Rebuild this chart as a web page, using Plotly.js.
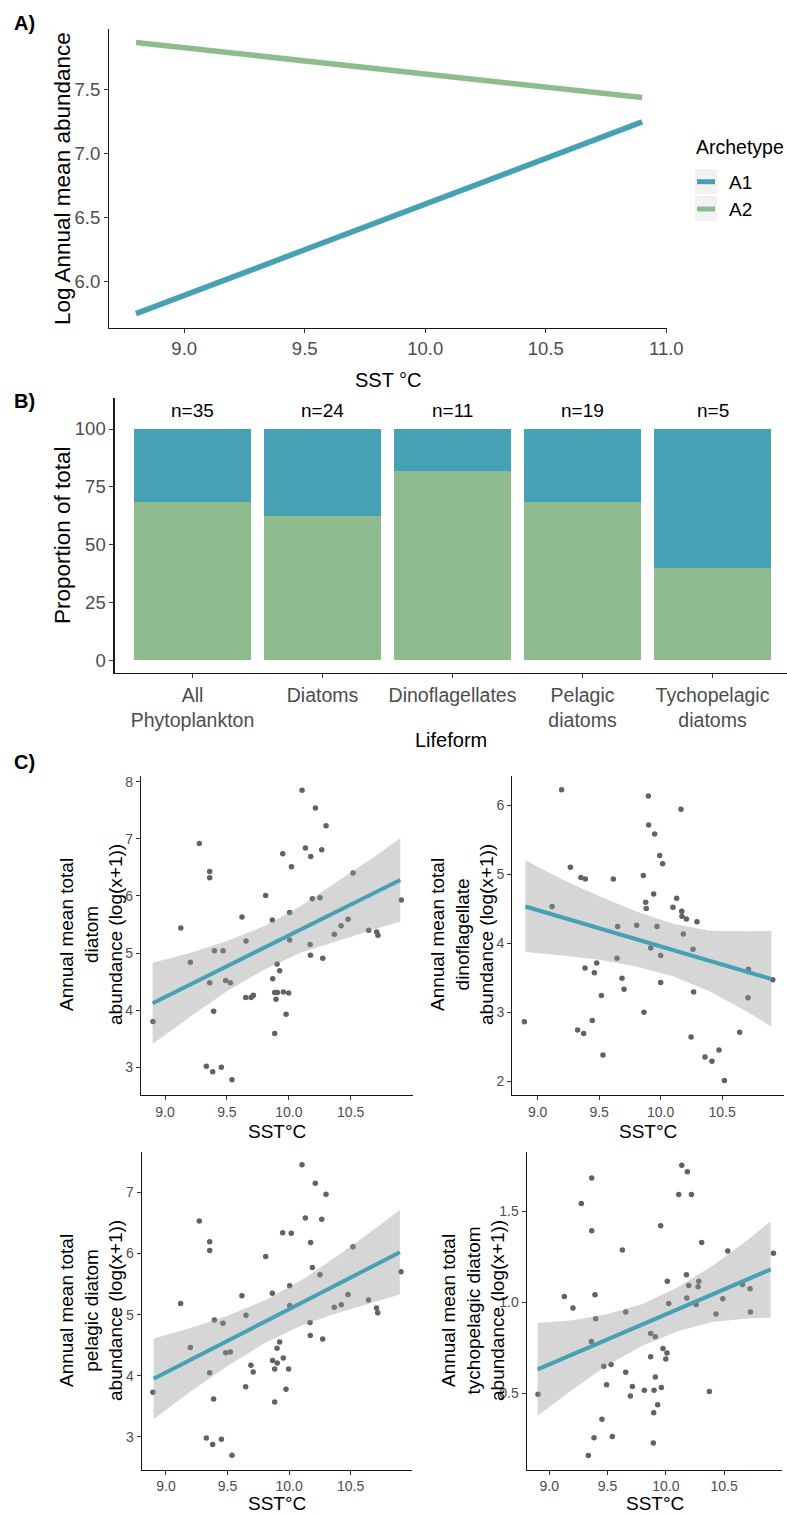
<!DOCTYPE html>
<html>
<head>
<meta charset="utf-8">
<script src="https://cdn.plot.ly/plotly-3.0.1.min.js"></script>
<style>
  html, body { margin: 0; padding: 0; background: #ffffff; }
  #fig { width: 787px; height: 1515px; }
</style>
</head>
<body>
<div id="fig"></div>
<script>
// ---------- Panel A: fitted log abundance vs SST for each archetype ----------
const archetypes = ['A1', 'A2'];
const fitSST = [8.8, 10.9];
const fitA1 = [5.75, 7.25];
const fitA2 = [7.87, 7.44];

// ---------- Panel B: share of taxa in each archetype, by lifeform ----------
const lifeforms = ['All<br>Phytoplankton', 'Diatoms', 'Dinoflagellates', 'Pelagic<br>diatoms', 'Tychopelagic<br>diatoms'];
const taxaTotal = [35, 24, 11, 19, 5];
const taxaA2 = [24, 15, 9, 13, 2];

// ---------- Panel C: annual mean abundance vs SST, with linear fit ----------
const bandSST = [8.9, 9.2, 9.5, 9.8, 10.1, 10.4, 10.7, 10.9];
const lineSST = [8.9, 10.9];

// Total diatoms
const diatomSST = [9.127, 9.205, 9.277, 9.361, 9.361, 9.399, 9.469, 9.622, 9.654, 9.813, 9.867, 9.905, 9.926, 9.951, 10.021, 10.007, 10.007, 10.107, 10.134, 10.177, 10.215, 10.301, 10.266, 10.19, 10.252, 10.172, 10.175, 10.274, 10.368, 10.422, 10.479, 10.519,
  8.903, 9.361, 9.49, 9.528, 9.393, 9.334, 9.385, 9.455, 9.541, 9.652, 9.695, 9.714, 9.87, 9.886, 9.908, 9.897, 9.956, 9.999, 9.978, 9.886,
  10.645, 10.71, 10.72, 10.909];
const diatomAbund = [5.44, 4.84, 6.92, 6.43, 6.32, 5.04, 5.04, 5.63, 5.21, 6.01, 5.58, 4.81, 4.69, 6.74, 6.51, 5.71, 5.23, 7.85, 6.84, 6.69, 7.54, 7.23, 6.81, 5.95, 5.97, 5.15, 4.96, 4.91, 5.33, 5.48, 5.59, 6.40,
  3.80, 4.48, 4.52, 4.48, 3.98, 3.02, 2.92, 3.00, 2.78, 4.22, 4.22, 4.26, 4.55, 4.31, 4.31, 4.19, 4.32, 4.30, 3.93, 3.59,
  5.40, 5.37, 5.31, 5.93];
const diatomFit = [4.12, 6.28];
const diatomUpper = [4.83, 5.00, 5.21, 5.47, 5.83, 6.26, 6.70, 7.01];
const diatomLower = [3.41, 3.88, 4.33, 4.71, 5.01, 5.22, 5.42, 5.55];

// Total dinoflagellates
const dinoSST = [9.195, 9.9, 10.165, 9.902, 9.951, 9.992, 10.016, 9.266, 9.352, 9.388, 9.615, 9.859, 9.943, 9.878, 9.883, 10.13, 10.1, 10.171, 10.173, 10.209, 10.295, 9.117, 9.65, 9.805, 9.97, 10.184, 10.263, 9.919, 10.0, 9.645, 9.48, 9.385, 10.713,
  8.892, 9.325, 9.374, 9.444, 9.531, 9.461, 9.518, 9.686, 9.702, 9.864, 10.0, 10.268, 10.247, 10.36, 10.417, 10.474, 10.518, 10.642, 10.71, 10.911];
const dinoAbund = [6.22, 6.13, 5.94, 5.71, 5.58, 5.27, 5.15, 5.10, 4.95, 4.93, 4.93, 4.98, 4.71, 4.59, 4.50, 4.65, 4.52, 4.46, 4.39, 4.35, 4.31, 4.53, 4.24, 4.26, 4.24, 4.13, 3.91, 3.93, 3.82, 3.78, 3.71, 3.64, 3.62,
  2.86, 2.74, 2.69, 2.88, 2.38, 3.57, 3.24, 3.49, 3.33, 3.00, 3.43, 3.29, 2.64, 2.35, 2.29, 2.45, 2.01, 2.71, 3.21, 3.47];
const dinoFit = [4.53, 3.48];
const dinoUpper = [5.20, 4.92, 4.68, 4.46, 4.28, 4.18, 4.17, 4.18];
const dinoLower = [3.87, 3.82, 3.76, 3.66, 3.52, 3.30, 3.01, 2.79];

// Pelagic diatoms
const pelagicSST = [9.119, 9.271, 9.355, 9.355, 9.393, 9.463, 9.617, 9.65, 9.81, 9.864, 9.948, 10.018, 10.005, 10.005, 10.105, 10.132, 10.175, 10.213, 10.30, 10.265, 10.189, 10.251, 10.17, 10.367, 10.424, 10.478, 10.519,
  8.894, 9.198, 9.355, 9.485, 9.523, 9.387, 9.328, 9.379, 9.45, 9.536, 9.647, 9.69, 9.709, 9.866, 9.902, 9.923, 9.883, 9.904, 9.953, 9.996, 9.975, 9.883, 10.172, 10.273,
  10.645, 10.71, 10.72, 10.909];
const pelagicAbund = [5.18, 6.53, 6.19, 6.05, 4.91, 4.86, 5.31, 4.99, 5.95, 5.35, 6.34, 6.33, 5.47, 5.15, 7.45, 6.58, 6.18, 7.15, 6.97, 6.56, 5.77, 5.65, 4.87, 5.12, 5.16, 5.33, 6.11,
  3.73, 4.46, 4.05, 4.375, 4.39, 3.62, 2.98, 2.875, 2.96, 2.70, 3.82, 4.17, 4.06, 4.25, 4.45, 4.55, 4.11, 4.21, 4.29, 4.11, 3.78, 3.57, 4.66, 4.60,
  5.24, 5.11, 5.03, 5.70];
const pelagicFit = [3.95, 6.02];
const pelagicUpper = [4.61, 4.78, 4.98, 5.23, 5.56, 5.97, 6.41, 6.71];
const pelagicLower = [3.29, 3.74, 4.16, 4.53, 4.82, 5.03, 5.21, 5.33];

// Tychopelagic diatoms
const tychoSST = [9.129, 9.203, 9.275, 9.364, 9.364, 9.392, 9.398, 9.627, 9.656, 9.956, 10.013, 10.025, 10.111, 10.137, 10.185, 10.22, 10.177, 10.18, 10.197, 10.26, 10.277, 10.283, 10.308, 10.431, 10.489, 10.532, 10.658, 10.723, 10.726, 10.924,
  8.903, 9.361, 9.467, 9.53, 9.492, 9.656, 9.713, 9.696, 9.816, 9.87, 9.91, 9.87, 9.976, 10.01, 10.0, 9.91, 9.899, 9.962, 9.93, 9.896, 9.893, 9.452, 9.384, 9.541, 9.335, 10.374];
const tychoAbund = [1.031, 0.967, 1.542, 1.682, 1.392, 1.04, 0.909, 1.286, 0.945, 1.42, 1.115, 0.993, 1.591, 1.752, 1.717, 1.591, 1.151, 1.022, 1.091, 0.987, 1.084, 1.115, 1.328, 0.934, 1.018, 1.281, 1.097, 1.073, 0.945, 1.268,
  0.493, 0.783, 0.648, 0.657, 0.546, 0.615, 0.536, 0.484, 0.515, 0.827, 0.81, 0.70, 0.745, 0.72, 0.688, 0.588, 0.516, 0.531, 0.436, 0.392, 0.226, 0.356, 0.255, 0.261, 0.157, 0.509];
const tychoFit = [0.63, 1.18];
const tychoUpper = [0.885, 0.90, 0.935, 0.99, 1.08, 1.20, 1.34, 1.445];
const tychoLower = [0.375, 0.52, 0.655, 0.76, 0.84, 0.89, 0.91, 0.915];

// ---------- styling ----------
const W = 787, H = 1515;
const FONT = 'Liberation Sans, Arial, Helvetica, sans-serif';
const TEAL = '#47A1B5';
const GREEN = '#8FBC8F';
const POINT = '#626262';
const BAND = 'rgba(153,153,153,0.4)';
const TICK_GREY = '#4D4D4D';

const px = v => v / W;            // horizontal pixel -> paper
const py = v => 1 - v / H;        // vertical pixel -> paper
const domX = (a, b) => [px(a), px(b)];
const domY = (top, bottom) => [py(bottom), py(top)];

function axis(extra, tickSize) {
  return Object.assign({
    showline: true, linecolor: '#1a1a1a', linewidth: 1.1,
    ticks: 'outside', ticklen: 4, tickwidth: 1, tickcolor: '#333333',
    showgrid: false, zeroline: false, fixedrange: true,
    tickfont: { family: FONT, size: tickSize || 14, color: TICK_GREY }
  }, extra);
}

function note(text, x, y, opts) {
  return Object.assign({
    text: text, x: px(x), y: py(y), xref: 'paper', yref: 'paper',
    showarrow: false, xanchor: 'center', yanchor: 'middle',
    font: { family: FONT, size: 19.5, color: '#000000' }
  }, opts || {});
}

// ---------- traces ----------
const traces = [];

// Panel A
traces.push({
  type: 'scatter', mode: 'lines', x: fitSST, y: fitA1, name: archetypes[0],
  xaxis: 'x', yaxis: 'y', line: { color: TEAL, width: 5.5 }, showlegend: false, hoverinfo: 'skip'
});
traces.push({
  type: 'scatter', mode: 'lines', x: fitSST, y: fitA2, name: archetypes[1],
  xaxis: 'x', yaxis: 'y', line: { color: GREEN, width: 5.5 }, showlegend: false, hoverinfo: 'skip'
});

// Panel B (A2 at the bottom of each stack, A1 on top)
const pctA2 = taxaA2.map((v, i) => 100 * v / taxaTotal[i]);
const pctA1 = pctA2.map(v => 100 - v);
traces.push({
  type: 'bar', x: lifeforms, y: pctA2, name: archetypes[1], width: 0.9,
  xaxis: 'x2', yaxis: 'y2', marker: { color: GREEN, line: { width: 0 } }, showlegend: false, hoverinfo: 'skip'
});
traces.push({
  type: 'bar', x: lifeforms, y: pctA1, name: archetypes[0], width: 0.9,
  xaxis: 'x2', yaxis: 'y2', marker: { color: TEAL, line: { width: 0 } }, showlegend: false, hoverinfo: 'skip'
});

// Panel C scatter + confidence band + fitted line
function scatterPanel(xs, ys, fit, upper, lower, xa, ya) {
  traces.push({
    type: 'scatter', mode: 'markers', x: xs, y: ys, xaxis: xa, yaxis: ya,
    marker: { color: POINT, size: 5.5 }, showlegend: false, hoverinfo: 'skip'
  });
  traces.push({
    type: 'scatter', mode: 'lines', x: bandSST.concat(bandSST.slice().reverse()),
    y: upper.concat(lower.slice().reverse()), fill: 'toself', fillcolor: BAND,
    line: { width: 0 }, xaxis: xa, yaxis: ya, showlegend: false, hoverinfo: 'skip'
  });
  traces.push({
    type: 'scatter', mode: 'lines', x: lineSST, y: fit, xaxis: xa, yaxis: ya,
    line: { color: TEAL, width: 4 }, showlegend: false, hoverinfo: 'skip'
  });
}
scatterPanel(diatomSST, diatomAbund, diatomFit, diatomUpper, diatomLower, 'x3', 'y3');
scatterPanel(dinoSST, dinoAbund, dinoFit, dinoUpper, dinoLower, 'x4', 'y4');
scatterPanel(pelagicSST, pelagicAbund, pelagicFit, pelagicUpper, pelagicLower, 'x5', 'y5');
scatterPanel(tychoSST, tychoAbund, tychoFit, tychoUpper, tychoLower, 'x6', 'y6');

// ---------- layout ----------
const sstTicks = [9, 9.5, 10, 10.5];
const titleC = { family: FONT, size: 19, color: '#000' };

const annotations = [
  note('<b>A)</b>', 12, 23, { xanchor: 'left', font: { family: FONT, size: 20, color: '#000' } }),
  note('<b>B)</b>', 12, 401, { xanchor: 'left', font: { family: FONT, size: 20, color: '#000' } }),
  note('<b>C)</b>', 12, 762, { xanchor: 'left', font: { family: FONT, size: 20, color: '#000' } }),

  // Panel A titles and key
  note('SST °C', 388, 380, { font: { family: FONT, size: 20, color: '#000' } }),
  note('Log Annual mean abundance', 62, 179, { textangle: -90, font: { family: FONT, size: 22.5, color: '#000' } }),
  note('Archetype', 694, 147, { xanchor: 'left', font: { family: FONT, size: 19.5, color: '#000' } }),
  note(archetypes[0], 727, 182, { xanchor: 'left', font: { family: FONT, size: 19, color: '#000' } }),
  note(archetypes[1], 727, 209, { xanchor: 'left', font: { family: FONT, size: 19, color: '#000' } }),

  // Panel B titles
  note('Proportion of total', 63, 535, { textangle: -90, font: { family: FONT, size: 22.5, color: '#000' } }),
  note('Lifeform', 451, 740, { font: { family: FONT, size: 20, color: '#000' } }),

  // Panel C axis titles
  note('SST°C', 277, 1131, { font: titleC }),
  note('SST°C', 648, 1131, { font: titleC }),
  note('SST°C', 277, 1503, { font: titleC }),
  note('SST°C', 655, 1503, { font: titleC }),
  note('Annual mean total<br>diatom<br>abundance (log(x+1))', 91, 935, { textangle: -90, font: titleC }),
  note('Annual mean total<br>dinoflagellate<br>abundance (log(x+1))', 462, 935, { textangle: -90, font: titleC }),
  note('Annual mean total<br>pelagic diatom<br>abundance (log(x+1))', 91, 1311, { textangle: -90, font: titleC }),
  note('Annual mean total<br>tychopelagic diatom<br>abundance (log(x+1))', 473, 1311, { textangle: -90, font: titleC })
];

// Taxa counts above each bar
lifeforms.forEach((lf, i) => {
  annotations.push({
    text: 'n=' + taxaTotal[i], x: lf, y: 108, xref: 'x2', yref: 'y2',
    showarrow: false, xanchor: 'center', yanchor: 'middle',
    font: { family: FONT, size: 19, color: '#000' }
  });
});

// Key for panel A
const shapes = [
  { type: 'rect', xref: 'paper', yref: 'paper', x0: px(695), x1: px(717), y0: py(194), y1: py(169), fillcolor: '#F2F2F2', line: { width: 0 }, layer: 'below' },
  { type: 'rect', xref: 'paper', yref: 'paper', x0: px(695), x1: px(717), y0: py(221), y1: py(196), fillcolor: '#F2F2F2', line: { width: 0 }, layer: 'below' },
  { type: 'line', xref: 'paper', yref: 'paper', x0: px(697), x1: px(715), y0: py(181.7), y1: py(181.7), line: { color: TEAL, width: 5 } },
  { type: 'line', xref: 'paper', yref: 'paper', x0: px(697), x1: px(715), y0: py(209), y1: py(209), line: { color: GREEN, width: 5 } }
];

const layout = {
  width: W, height: H,
  margin: { l: 0, r: 0, t: 0, b: 0, pad: 0 },
  paper_bgcolor: '#ffffff', plot_bgcolor: 'rgba(0,0,0,0)',
  showlegend: false, barmode: 'stack', hovermode: false,
  font: { family: FONT, color: '#000' },

  xaxis: axis({ domain: domX(109, 667), range: [8.688, 11.003], anchor: 'y', tickvals: [9, 9.5, 10, 10.5, 11], tickformat: '.1f' }, 18.5),
  yaxis: axis({ domain: domY(29, 328), range: [5.638, 7.976], anchor: 'x', tickvals: [6, 6.5, 7, 7.5], tickformat: '.1f' }, 18.5),

  xaxis2: axis({ domain: domX(114.5, 787), range: [-0.6, 4.573], anchor: 'y2', type: 'category', categoryorder: 'array', categoryarray: lifeforms }, 19.5),
  yaxis2: axis({ domain: domY(398, 673.3), range: [-5.6, 113.4], anchor: 'x2', tickvals: [0, 25, 50, 75, 100] }, 18.5),

  xaxis3: axis({ domain: domX(141, 412.6), range: [8.806, 11.0], anchor: 'y3', tickvals: sstTicks, tickformat: '.1f' }),
  yaxis3: axis({ domain: domY(776, 1095), range: [2.515, 8.1], anchor: 'x3', tickvals: [3, 4, 5, 6, 7, 8] }),

  xaxis4: axis({ domain: domX(512.3, 783.7), range: [8.794, 11.0], anchor: 'y4', tickvals: sstTicks, tickformat: '.1f' }),
  yaxis4: axis({ domain: domY(776, 1095), range: [1.80, 6.42], anchor: 'x4', tickvals: [2, 3, 4, 5, 6] }),

  xaxis5: axis({ domain: domX(141.7, 412.2), range: [8.803, 11.0], anchor: 'y5', tickvals: sstTicks, tickformat: '.1f' }),
  yaxis5: axis({ domain: domY(1152, 1469.5), range: [2.466, 7.66], anchor: 'x5', tickvals: [3, 4, 5, 6, 7] }),

  xaxis6: axis({ domain: domX(526.7, 782.3), range: [8.806, 11.0], anchor: 'y6', tickvals: sstTicks, tickformat: '.1f' }),
  yaxis6: axis({ domain: domY(1152, 1469.5), range: [0.08, 1.825], anchor: 'x6', tickvals: [0.5, 1.0, 1.5], tickformat: '.1f' }),

  annotations: annotations,
  shapes: shapes
};

Plotly.newPlot('fig', traces, layout, { displayModeBar: false, staticPlot: true });
</script>
</body>
</html>
